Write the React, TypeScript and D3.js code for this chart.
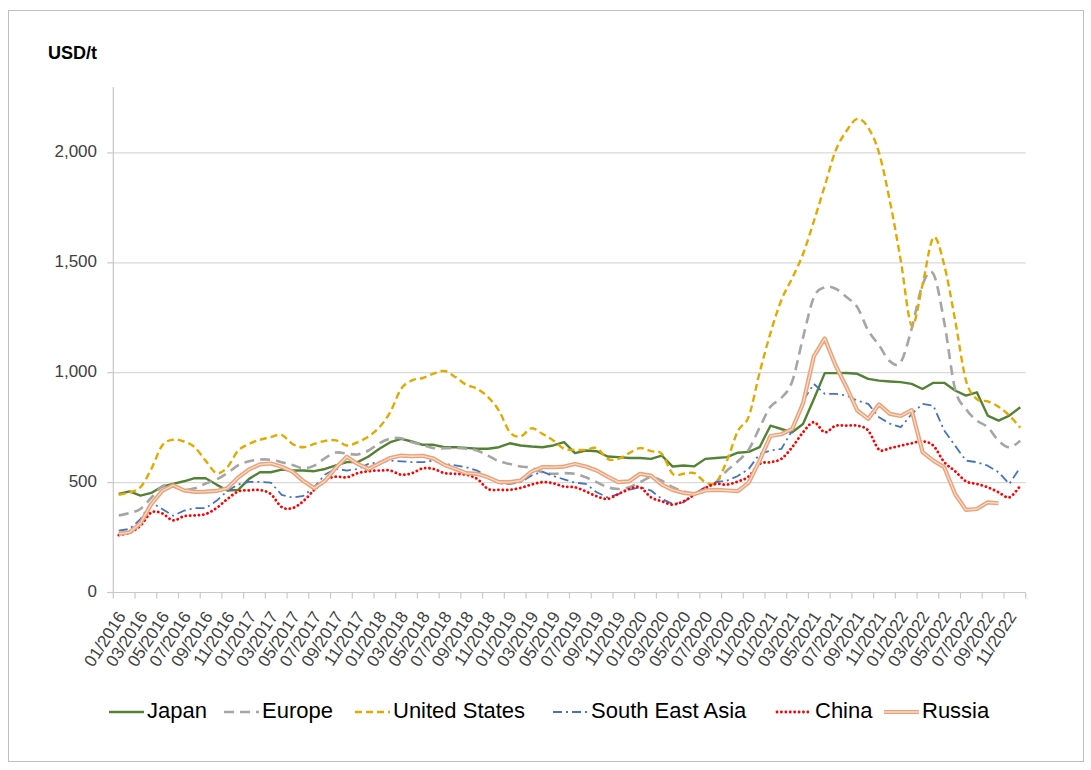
import React from 'react';
import * as d3 from 'd3';

// categories: monthly, 01/2016 .. 12/2022
const years = ['2016', '2017', '2018', '2019', '2020', '2021', '2022'];
const monthNums = ['01', '02', '03', '04', '05', '06', '07', '08', '09', '10', '11', '12'];
const months = years.flatMap(y => monthNums.map(m => `${m}/${y}`));

const yTicks = [0, 500, 1000, 1500, 2000];

// USD/t
const japan = [
  448, 460, 441, 453, 482, 494, 506, 520, 520, 491, 464, 467,
  517, 547, 547, 559, 555, 555, 552, 562, 578, 593, 593, 619,
  654, 684, 699, 687, 672, 672, 661, 661, 658, 654, 654, 661,
  679, 669, 664, 661, 669, 684, 634, 646, 643, 619, 616, 612,
  612, 608, 623, 573, 578, 574, 608, 612, 616, 636, 640, 661,
  759, 744, 729, 767, 880, 998, 998, 999, 995, 972, 964, 960,
  957, 949, 926, 954, 954, 919, 896, 911, 805, 782, 805, 843,
];
const europe = [
  350, 362, 380, 431, 483, 483, 467, 474, 496, 514, 543, 579,
  597, 605, 604, 593, 580, 565, 577, 612, 637, 632, 628, 646,
  679, 700, 702, 684, 671, 657, 656, 658, 654, 646, 623, 597,
  585, 573, 568, 547, 540, 543, 540, 524, 502, 479, 471, 479,
  502, 524, 509, 479, 460, 448, 464, 502, 555, 597, 650, 750,
  845, 885, 960, 1160, 1344, 1389, 1382, 1344, 1298, 1192, 1125, 1052,
  1048, 1200, 1400, 1450, 1230, 925, 835, 782, 752, 691, 661, 691,
];
const unitedStates = [
  444, 456, 479, 562, 669, 695, 687, 661, 600, 543, 570, 646,
  676, 695, 707, 717, 676, 661, 676, 690, 692, 669, 684, 710,
  752, 821, 927, 965, 976, 996, 1008, 980, 945, 927, 889, 828,
  730, 710, 747, 722, 692, 654, 649, 649, 657, 608, 608, 634,
  657, 643, 631, 540, 540, 543, 502, 502, 600, 735, 800, 1000,
  1180, 1330, 1430, 1540, 1690, 1850, 2010, 2100, 2155, 2115, 2000, 1780,
  1510, 1215, 1400, 1615, 1490, 1240, 965, 880, 870, 845, 805, 750,
];
const southEastAsia = [
  282, 289, 334, 410, 380, 349, 372, 384, 384, 417, 462, 492,
  503, 503, 500, 444, 432, 440, 480, 537, 563, 555, 562, 585,
  593, 600, 597, 593, 593, 600, 585, 578, 570, 555, 524, 497,
  494, 502, 532, 550, 530, 515, 500, 494, 456, 433, 448, 467,
  479, 464, 426, 403, 410, 448, 479, 502, 509, 530, 562, 630,
  646, 653, 737, 873, 949, 904, 904, 896, 873, 858, 797, 768,
  752, 812, 858, 850, 737, 668, 600, 593, 577, 547, 494, 570,
];
const china = [
  261, 272, 304, 364, 360, 328, 347, 351, 357, 384, 425, 460,
  465, 466, 448, 389, 384, 416, 467, 512, 527, 524, 543, 552,
  555, 555, 536, 543, 565, 562, 543, 540, 536, 517, 471, 467,
  467, 476, 491, 502, 497, 482, 479, 460, 438, 426, 448, 471,
  479, 433, 415, 400, 415, 445, 476, 494, 491, 505, 528, 585,
  593, 608, 661, 729, 775, 729, 759, 759, 759, 737, 650, 657,
  668, 679, 688, 668, 593, 552, 506, 494, 479, 456, 433, 486,
];
const russia: (number | null)[] = [
  267, 274, 315, 402, 462, 488, 465, 458, 459, 462, 474, 523,
  560, 583, 587, 572, 550, 507, 474, 508, 568, 618, 585, 562,
  587, 612, 623, 620, 622, 609, 580, 562, 543, 540, 524, 502,
  502, 509, 550, 570, 570, 573, 585, 573, 555, 527, 502, 506,
  540, 532, 491, 467, 453, 448, 464, 467, 464, 461, 500, 600,
  712, 720, 744, 860, 1075, 1156, 1033, 934, 828, 790, 856, 813,
  803, 830, 639, 600, 570, 448, 376, 380, 410, 406, null, null,
];

const font = '"Liberation Sans", Arial, sans-serif';

type Series = {
  name: string;
  values: (number | null)[];
  color: string;
  width: number;
  dash?: string;
  cap?: 'round' | 'butt';
  smooth: boolean;
  double?: boolean;
};

const series: Series[] = [
  { name: 'Japan', values: japan, color: '#548235', width: 2.4, smooth: false },
  { name: 'Europe', values: europe, color: '#a5a5a5', width: 2.6, dash: '10 6', smooth: true },
  { name: 'United States', values: unitedStates, color: '#e2aa00', width: 2.4, dash: '7 4', smooth: true },
  { name: 'South East Asia', values: southEastAsia, color: '#4472c4', width: 1.8, dash: '9 4 2 4', smooth: false },
  { name: 'China', values: china, color: '#ff0000', width: 2.8, dash: '0.1 4.3', cap: 'round', smooth: true },
  { name: 'Russia', values: russia, color: '#e9a27a', width: 4.2, smooth: false, double: true },
];

const legendX = [147, 262, 393, 591, 815, 922];

export default function App() {
  const left = 113.3;
  const right = 1025.7;
  const top = 87;
  const bottom = 592.5;

  const xBand = d3.scaleBand<string>().domain(months).range([left, right]);
  const x = d3.scalePoint<string>().domain(months).range([left, right]).padding(0.5);
  const y = d3.scaleLinear().domain([0, 2300]).range([bottom, top]);

  const tickPos = months.filter((_, i) => i % 2 === 0).map(m => xBand(m) as number).concat([right]);

  const makeLine = (s: Series) =>
    d3
      .line<number | null>()
      .defined(v => v !== null)
      .x((_, i) => x(months[i]) as number)
      .y(v => y(v as number))
      .curve(s.smooth ? d3.curveCardinal.tension(0) : d3.curveLinear);

  return (
    <svg width={1091} height={770} style={{ position: 'absolute', left: 0, top: 0, background: '#fff' }}>
      <rect x={8.5} y={10.5} width={1075} height={751} fill="#fff" stroke="#bfbfbf" strokeWidth={1} />

      <text x={48} y={59} fontFamily={font} fontWeight="bold" fontSize={18} fill="#000">
        USD/t
      </text>

      {/* gridlines */}
      {yTicks.filter(t => t > 0).map(t => (
        <line key={t} x1={left} x2={right} y1={y(t)} y2={y(t)} stroke="#d9d9d9" strokeWidth={1.2} />
      ))}

      {/* y axis */}
      <line x1={left} x2={left} y1={top} y2={bottom} stroke="#c8c8c8" strokeWidth={1.2} />
      {yTicks.map(t => (
        <g key={t}>
          <line x1={left - 6} x2={left} y1={y(t)} y2={y(t)} stroke="#c8c8c8" strokeWidth={1.2} />
          <text
            x={97}
            y={y(t)}
            textAnchor="end"
            dominantBaseline="middle"
            fontFamily={font}
            fontSize={17}
            fill="#404040"
          >
            {d3.format(',')(t)}
          </text>
        </g>
      ))}

      {/* x axis */}
      <line x1={left - 6} x2={right} y1={bottom} y2={bottom} stroke="#c8c8c8" strokeWidth={1.2} />
      {tickPos.map((p, i) => (
        <line key={i} x1={p} x2={p} y1={bottom} y2={bottom + 6} stroke="#c8c8c8" strokeWidth={1.2} />
      ))}
      {months.map((m, i) =>
        i % 2 === 0 ? (
          <text
            key={m}
            transform={`translate(${(x(m) as number) + 4},${614}) rotate(-57)`}
            textAnchor="end"
            dominantBaseline="middle"
            fontFamily={font}
            fontSize={17}
            fill="#404040"
          >
            {m}
          </text>
        ) : null
      )}

      {/* series */}
      {series.map(s => (
        <g key={s.name}>
          <path
            d={makeLine(s)(s.values) || ''}
            fill="none"
            stroke={s.color}
            strokeWidth={s.width}
            strokeDasharray={s.dash}
            strokeLinecap={s.cap || 'butt'}
            strokeLinejoin="round"
          />
          {s.double && (
            <path
              d={makeLine(s)(s.values) || ''}
              fill="none"
              stroke="#f9dcc9"
              strokeWidth={1.3}
              strokeLinejoin="round"
            />
          )}
        </g>
      ))}

      {/* legend */}
      {series.map((s, i) => {
        const tx = legendX[i];
        const ly = 712;
        return (
          <g key={s.name}>
            <line
              x1={tx - 38}
              x2={tx - 3}
              y1={ly}
              y2={ly}
              stroke={s.color}
              strokeWidth={s.width}
              strokeDasharray={s.dash}
              strokeLinecap={s.cap || 'butt'}
            />
            {s.double && <line x1={tx - 38} x2={tx - 3} y1={ly} y2={ly} stroke="#f9dcc9" strokeWidth={1.3} />}
            <text x={tx} y={ly} dominantBaseline="middle" fontFamily={font} fontSize={22} fill="#000">
              {s.name}
            </text>
          </g>
        );
      })}
    </svg>
  );
}
